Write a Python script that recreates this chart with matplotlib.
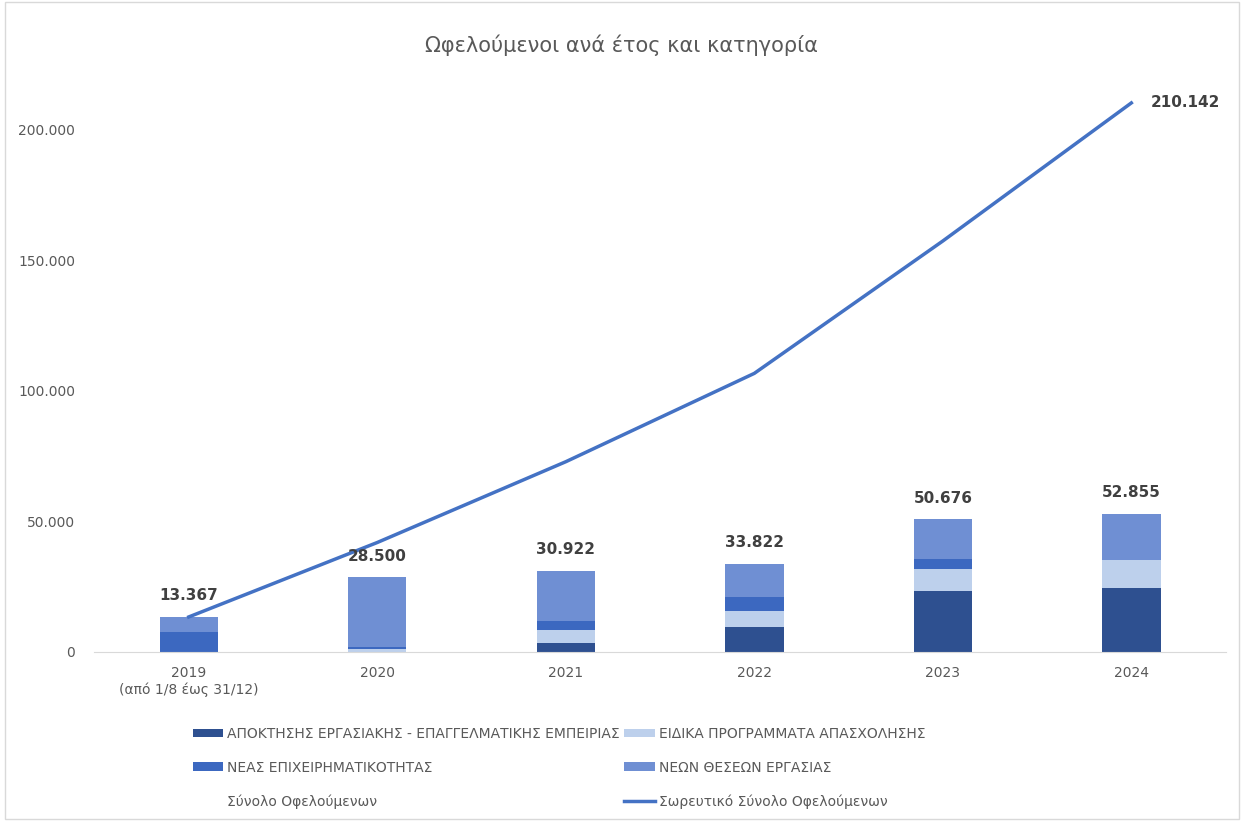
import numpy as np
import matplotlib
matplotlib.use('Agg')
import matplotlib.pyplot as plt
from matplotlib.patches import Patch, Rectangle

# data
years = ['2019\n(από 1/8 έως 31/12)', '2020', '2021', '2022', '2023', '2024']
apoktisis = [0, 0, 3400, 9560, 23300, 24500]
eidika = [0, 1200, 5000, 6100, 8400, 10700]
neas = [7600, 600, 3400, 5350, 3800, 0]
neon = [5767, 26700, 19122, 12812, 15176, 17655]
totals = [13367, 28500, 30922, 33822, 50676, 52855]
cumulative = [13367, 41867, 72789, 106611, 157287, 210142]

series_names = ['ΑΠΟΚΤΗΣΗΣ ΕΡΓΑΣΙΑΚΗΣ - ΕΠΑΓΓΕΛΜΑΤΙΚΗΣ ΕΜΠΕΙΡΙΑΣ',
                'ΕΙΔΙΚΑ ΠΡΟΓΡΑΜΜΑΤΑ ΑΠΑΣΧΟΛΗΣΗΣ',
                'ΝΕΑΣ ΕΠΙΧΕΙΡΗΜΑΤΙΚΟΤΗΤΑΣ',
                'ΝΕΩΝ ΘΕΣΕΩΝ ΕΡΓΑΣΙΑΣ']
colors = ['#2e5090', '#bdd0ec', '#3c68c0', '#6f8fd3']
line_color = '#4472c4'
text_gray = '#595959'

def fmt(v):
    return f'{v:,}'.replace(',', '.')

fig = plt.figure(figsize=(12.43, 8.21), dpi=100)
ax = fig.add_axes([0.076, 0.206, 0.91, 0.70])

x = np.arange(len(years))
bottom = np.zeros(len(years))
bars = []
for vals, col in zip([apoktisis, eidika, neas, neon], colors):
    b = ax.bar(x, vals, width=0.31, bottom=bottom, color=col, zorder=2)
    bars.append(b)
    bottom += np.array(vals)

ln, = ax.plot(x, cumulative, color=line_color, lw=2.5, zorder=3)

for xi, t in zip(x, totals):
    ax.annotate(fmt(t), (xi, t), xytext=(0, 10), textcoords='offset points',
                ha='center', va='bottom', fontsize=11, fontweight='bold', color='#404040')
ax.annotate(fmt(cumulative[-1]), (x[-1], cumulative[-1]), xytext=(14, 0),
            textcoords='offset points', ha='left', va='center',
            fontsize=11, fontweight='bold', color='#404040')

ax.set_xlim(-0.5, 5.5)
ax.set_ylim(0, 220000)
ax.set_yticks([0, 50000, 100000, 150000, 200000])
ax.set_yticklabels([fmt(v) for v in [0, 50000, 100000, 150000, 200000]])
ax.set_xticks(x)
ax.set_xticklabels(years)
ax.tick_params(length=0, labelsize=10, colors=text_gray, pad=10)
ax.tick_params(axis='y', pad=14)
for s in ['top', 'right', 'left']:
    ax.spines[s].set_visible(False)
ax.spines['bottom'].set_color('#d9d9d9')

fig.text(0.5, 0.945, 'Ωφελούμενοι ανά έτος και κατηγορία', ha='center', va='center',
         fontsize=15, color=text_gray)

blank = Patch(facecolor='none', edgecolor='none')
handles = [bars[0], bars[2], blank, bars[1], bars[3], ln]
labels = [series_names[0], series_names[2], 'Σύνολο Οφελούμενων',
          series_names[1], series_names[3], 'Σωρευτικό Σύνολο Οφελούμενων']
fig.legend(handles, labels, ncol=2, loc='lower left', bbox_to_anchor=(0.145, 0.0),
           frameon=False, labelcolor=text_gray, handlelength=2.2,
           handleheight=0.55, handletextpad=0.3, columnspacing=0.3, labelspacing=1.4,
           prop={'family': ['Liberation Sans Narrow', 'DejaVu Sans'], 'size': 10})

fig.patches.append(Rectangle((0.004, 0.002), 0.993, 0.996, transform=fig.transFigure,
                             fill=False, edgecolor='#d9d9d9', lw=1))

fig.savefig('out.png', dpi=100)
